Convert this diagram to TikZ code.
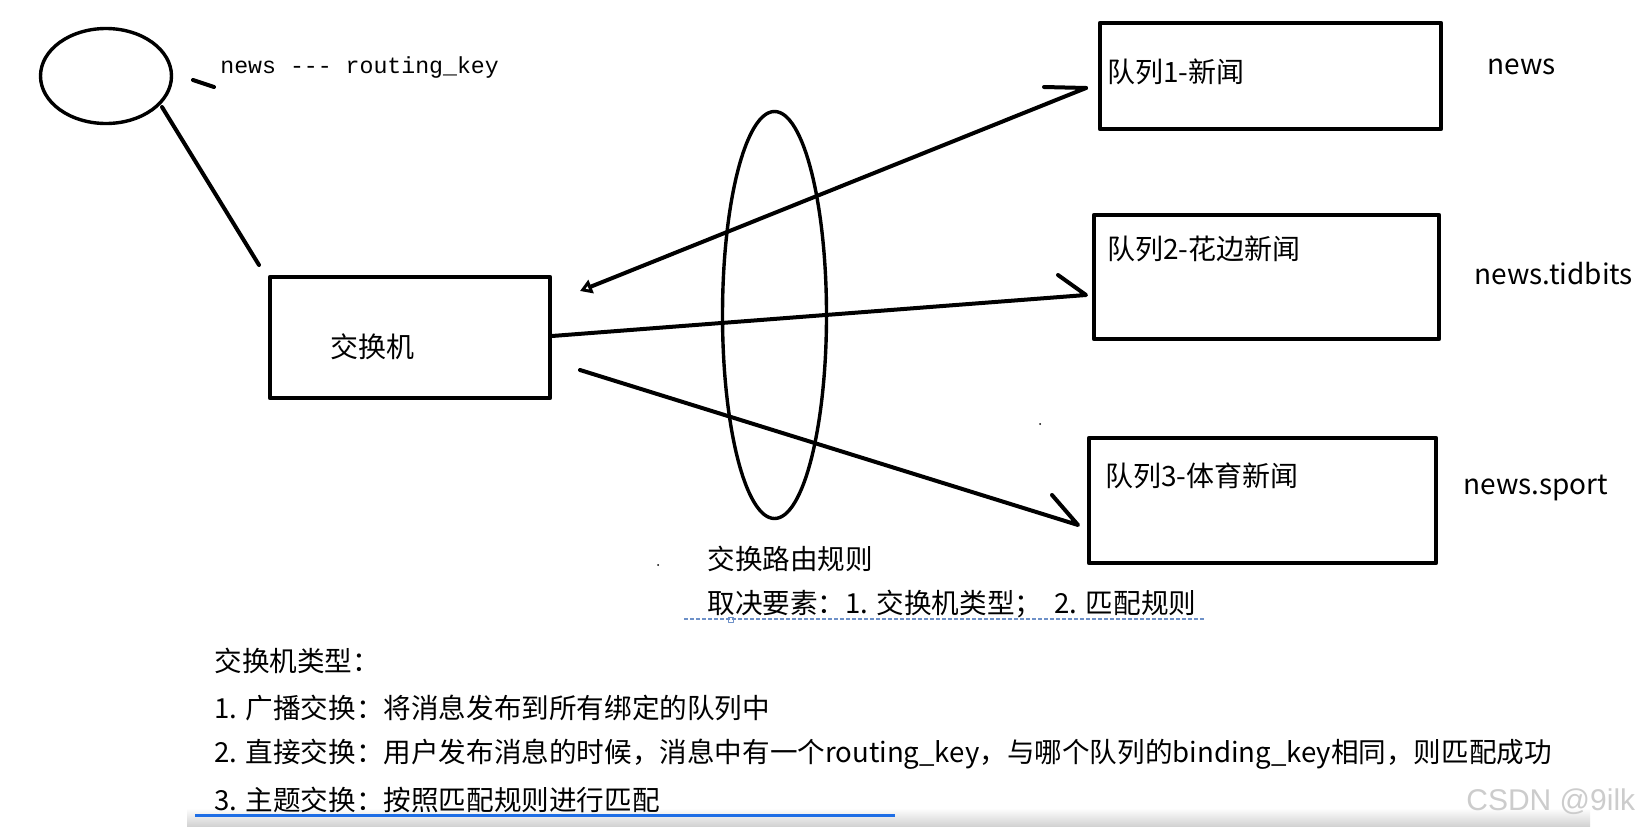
\documentclass[tikz,border=0pt]{standalone}
\usepackage{fontspec}
\setmainfont{Noto Sans CJK SC}
\newfontfamily\monofnt{Liberation Mono}
\newfontfamily\wmfont{Liberation Sans}
\usetikzlibrary{arrows.meta,shapes.geometric}
\definecolor{dashblue}{RGB}{110,145,200}
\definecolor{barblue}{RGB}{30,110,230}
\begin{document}
\begin{tikzpicture}[x=0.5pt,y=-0.5pt,line join=round,line cap=round,
  box/.style={draw,rectangle,line width=2.3pt,inner sep=0pt},
  oval/.style={draw,ellipse,line width=1.7pt,inner sep=0pt},
  stroke/.style={line width=2pt},
  lbl/.style={font=\fontsize{14}{16}\selectfont,inner sep=0pt,anchor=west},
  btxt/.style={font=\fontsize{13.8}{16}\selectfont,inner sep=0pt,anchor=west}]
\useasboundingbox (0,0) rectangle (1638,830);
\fill[white] (0,0) rectangle (1638,830);

% bottom band (behind text)
\shade[top color=white,bottom color=gray!35] (187,808) rectangle (1590,826);

% client
\node[oval,minimum width=65.5pt,minimum height=47.5pt] (client) at (106,76) {};
\coordinate (cl1) at (162,107);
\coordinate (cl2) at (259,265);
\draw[stroke] (cl1) -- (cl2);
\coordinate (d1) at (193,80);
\coordinate (d2) at (214,87);
\draw[stroke] (d1) -- (d2);
\node[font=\monofnt\fontsize{11.6}{13}\selectfont,inner sep=0pt,anchor=base west] (rk) at (220,73) {news --- routing\_key};

% exchange
\node[box,minimum width=140pt,minimum height=60.5pt] (ex) at (410,337.5) {};
\node[lbl] (exl) at (330,347) {交换机};

% queues
\node[box,minimum width=170.5pt,minimum height=53pt] (q1) at (1270.5,76) {};
\node[lbl] (q1l) at (1107,72) {队列1-新闻};
\node[box,minimum width=172.5pt,minimum height=62pt] (q2) at (1266.5,277) {};
\node[lbl] (q2l) at (1107,249) {队列2-花边新闻};
\node[box,minimum width=173.5pt,minimum height=62.5pt] (q3) at (1262.5,500.5) {};
\node[lbl] (q3l) at (1105,476) {队列3-体育新闻};

\node[lbl,anchor=base west] (k1) at (1487,74) {news};
\node[lbl,anchor=base west] (k2) at (1474,284) {news.tidbits};
\node[lbl,anchor=base west] (k3) at (1463,494) {news.sport};

% routing ellipse
\node[oval,minimum width=52pt,minimum height=203.5pt] (rule) at (774.5,315) {};

% arrows
\coordinate (a1s) at (1086,88);
\coordinate (a1e) at (580,291);
\coordinate (a1b) at (1044,87);
\draw[stroke,-{Triangle[open,length=6pt,width=7pt,line width=1.5pt]}] (a1s) -- (a1e);
\draw[stroke] (a1s) -- (a1b);

\coordinate (a2s) at (552,336);
\coordinate (a2e) at (1086,295);
\coordinate (a2b) at (1058,275);
\draw[stroke] (a2s) -- (a2e) -- (a2b);

\coordinate (a3s) at (580,370);
\coordinate (a3e) at (1078,525);
\coordinate (a3b) at (1052,495);
\draw[stroke] (a3s) -- (a3e) -- (a3b);

% specks
\fill (658,565) circle (0.5pt);
\fill (1040,424) circle (0.5pt);

% rule text
\node[btxt] (rt1) at (707,559) {交换路由规则};
\node[btxt] (rt2) at (707,604) {取决要素：1. 交换机类型；\ \ 2. 匹配规则};
\coordinate (dl1) at (684,619);
\coordinate (dl2) at (1204,619);
\draw[dashblue,line width=0.6pt,dash pattern=on 2pt off 1pt,line cap=butt] (dl1) -- (dl2);
\draw[dashblue,line width=0.5pt] (728,617) rectangle (733,622);

% bottom text
\node[btxt] (t0) at (214,661) {交换机类型：};
\node[btxt] (t1) at (214,708) {1. 广播交换：将消息发布到所有绑定的队列中};
\node[btxt] (t2) at (214,754) {2. 直接交换：用户发布消息的时候，消息中有一个routing\_key，与哪个队列的binding\_key相同，则匹配成功};
\node[btxt] (t3) at (214,800) {3. 主题交换：按照匹配规则进行匹配};

\coordinate (bl1) at (195,815);
\coordinate (bl2) at (895,815);
\draw[barblue,line width=1.5pt,line cap=butt] (bl1) -- (bl2);
\node[anchor=west,inner sep=0pt,text=gray!40,font=\wmfont\fontsize{15}{17}\selectfont] (wm) at (1466,802) {CSDN @9ilk};
\end{tikzpicture}
\end{document}
